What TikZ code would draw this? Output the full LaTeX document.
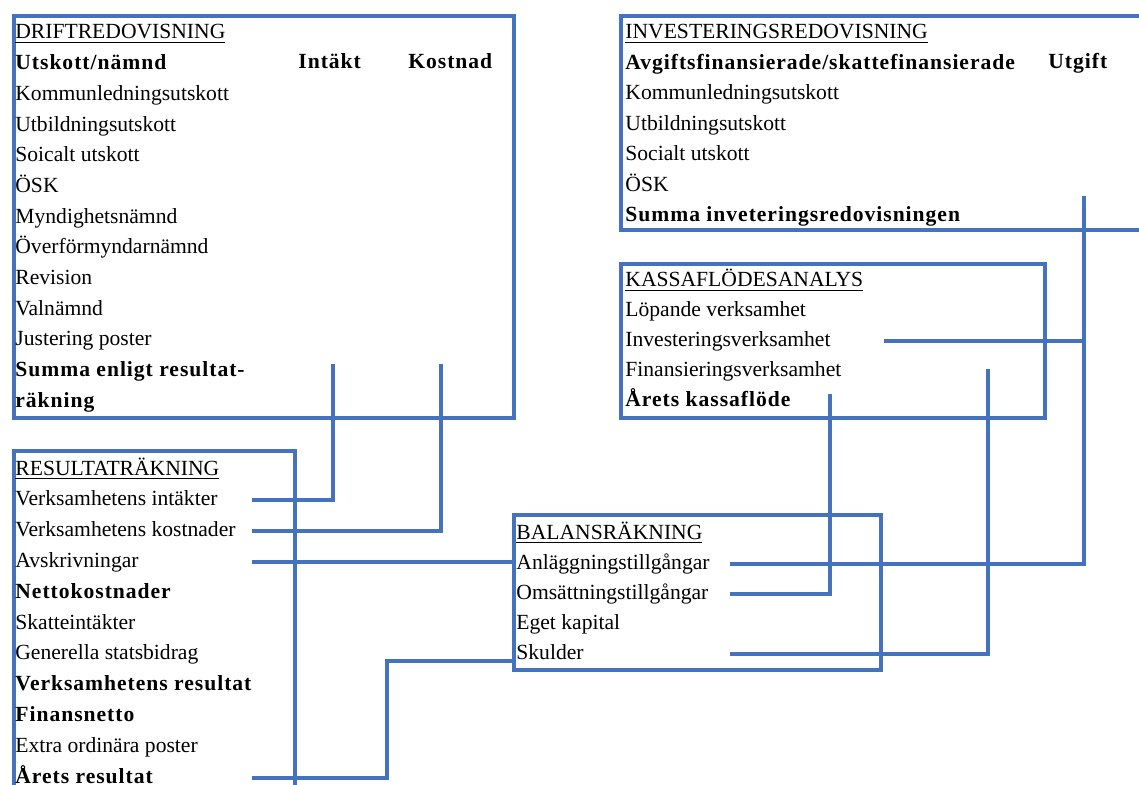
\documentclass[tikz,border=0pt]{standalone}
\usepackage{fontspec}
\setmainfont{Liberation Serif}[BoldFeatures={LetterSpace=4.5}]
\usepackage{xcolor}
\definecolor{flowblue}{RGB}{68,114,190}

\begin{document}
\begin{tikzpicture}[x=0.5pt, y=-0.5pt,
                box/.style={draw=flowblue, line width=2pt, inner sep=0pt, anchor=north west},
                link/.style={draw=flowblue, line width=2pt}]
        \tikzset{
                row/.style = {anchor=base west, inner sep=0pt, text height=7.5pt, text depth=2pt,
                                font=\fontsize{10.8}{13}\selectfont}
        }
        \useasboundingbox (0,0) rectangle (1139,785);
        \clip (0,0) rectangle (1139,785);

        % the five frames
        \node[box, minimum width=250pt, minimum height=201pt] (drift) at (12,14) {};
        \node[box, minimum width=140.5pt, minimum height=180pt] (res) at (12,449) {};
        \node[box, minimum width=275pt, minimum height=107pt] (inv) at (619,14) {};
        \node[box, minimum width=212pt, minimum height=77pt] (kassa) at (619,262) {};
        \node[box, minimum width=183.5pt, minimum height=77.5pt] (bal) at (512,513) {};

        % Driftredovisning
        \foreach \t [count=\i from 0] in {\underline{DRIFTREDOVISNING}, \textbf{Utskott/nämnd},
                Kommunledningsutskott, Utbildningsutskott, Soicalt utskott, ÖSK, Myndighetsnämnd,
                Överförmyndarnämnd, Revision, Valnämnd, Justering poster,
                \textbf{Summa enligt resultat-}, \textbf{räkning}}
        \node[row] (d\i) at (15,{39+30.67*\i}) {\t};
        \node[row] (dint) at (298,69) {\textbf{Intäkt}};
        \node[row] (dkost) at (408,69) {\textbf{Kostnad}};

        % Resultaträkning
        \foreach \t [count=\i from 0] in {\underline{RESULTATRÄKNING}, Verksamhetens intäkter,
                Verksamhetens kostnader, Avskrivningar, \textbf{Nettokostnader}, Skatteintäkter,
                Generella statsbidrag, \textbf{Verksamhetens resultat}, \textbf{Finansnetto},
                Extra ordinära poster, \textbf{Årets resultat}}
        \node[row] (r\i) at (15,{475+30.8*\i}) {\t};

        % Investeringsredovisning
        \foreach \t [count=\i from 0] in {\underline{INVESTERINGSREDOVISNING},
                \textbf{Avgiftsfinansierade/skattefinansierade}, Kommunledningsutskott,
                Utbildningsutskott, Socialt utskott, ÖSK, \textbf{Summa inveteringsredovisningen}}
        \node[row] (i\i) at (625,{39+30.5*\i}) {\t};
        \node[row] (iutg) at (1048,69) {\textbf{Utgift}};

        % Kassaflödesanalys
        \foreach \t [count=\i from 0] in {\underline{KASSAFLÖDESANALYS}, Löpande verksamhet,
                Investeringsverksamhet, Finansieringsverksamhet, \textbf{Årets kassaflöde}}
        \node[row] (k\i) at (625,{287+30*\i}) {\t};

        % Balansräkning
        \foreach \t [count=\i from 0] in {\underline{BALANSRÄKNING}, Anläggningstillgångar,
                Omsättningstillgångar, Eget kapital, Skulder}
        \node[row] (b\i) at (516,{539+30*\i}) {\t};

        % free ends and bends of the links
        \coordinate (sint) at (333,364);
        \coordinate (skost) at (441,364);
        \coordinate (rstart) at (252,0);
        \coordinate (bstart) at (730,0);
        \coordinate (kstart) at (884,0);
        \coordinate (uinv) at (1084,196);
        \coordinate (kars) at (830,394);
        \coordinate (kfin) at (988,369);
        \coordinate (rbend) at (387,661);

        % links into the Resultaträkning
        \draw[link] (r1.west -| rstart) -| (sint);
        \draw[link] (r2.west -| rstart) -| (skost);
        \draw[link] (r3.west -| rstart) -- (r3.west -| bal.west);
        \draw[link] (r10.west -| rstart) -| (rbend) -- (rbend -| bal.west);

        % links out of the Balansräkning
        \draw[link] (b1.west -| bstart) -| (uinv);
        \draw[link] (b2.west -| bstart) -| (kars);
        \draw[link] (b4.west -| bstart) -| (kfin);
        \draw[link] (k2.west -| kstart) -- (k2.west -| uinv);

\end{tikzpicture}
\end{document}
